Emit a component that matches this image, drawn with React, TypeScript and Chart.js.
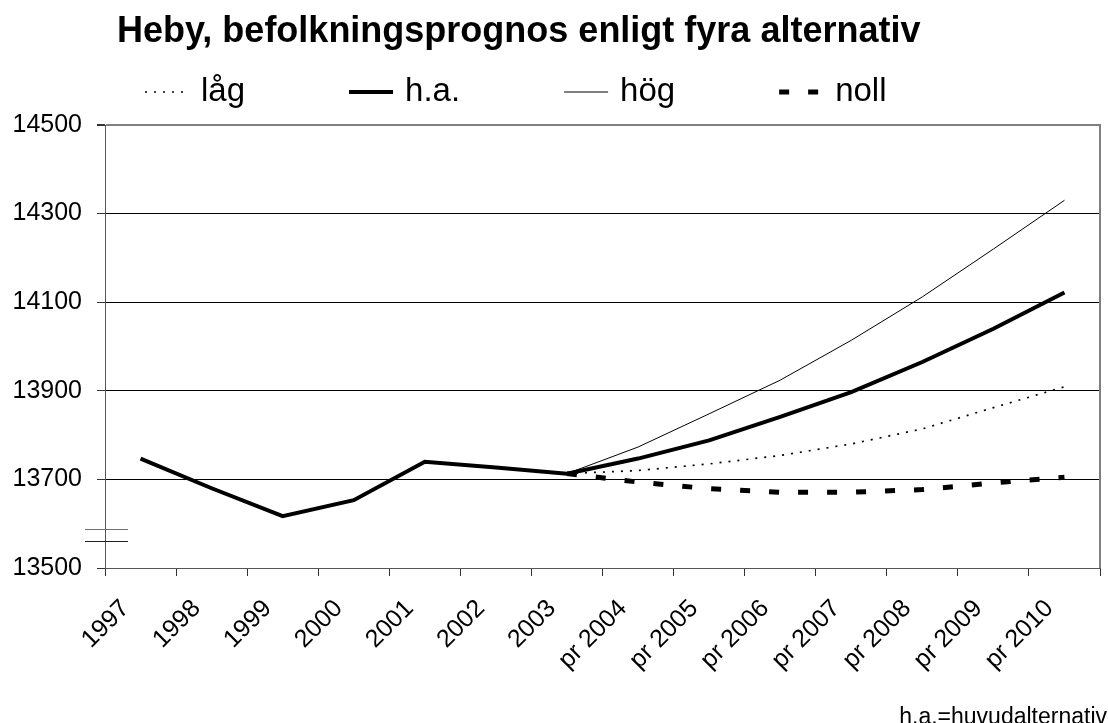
import React, { useEffect, useRef } from "react";
import { Chart, registerables } from "chart.js";

Chart.register(...registerables);

const TITLE = "Heby, befolkningsprognos enligt fyra alternativ";
const FOOTNOTE = "h.a.=huvudalternativ";

const categories = [
  "1997", "1998", "1999", "2000", "2001", "2002", "2003",
  "pr 2004", "pr 2005", "pr 2006", "pr 2007", "pr 2008", "pr 2009", "pr 2010",
];

const lagValues = [null, null, null, null, null, null, 13713, 13720, 13735, 13754, 13780, 13814, 13862, 13909];
const haValues = [13747, 13680, 13617, 13653, 13740, 13727, 13713, 13747, 13788, 13841, 13897, 13965, 14040, 14122];
const hogValues = [null, null, null, null, null, null, 13713, 13773, 13848, 13924, 14014, 14112, 14220, 14330];
const nollValues = [null, null, null, null, null, null, 13713, 13694, 13679, 13671, 13671, 13677, 13692, 13705];

const seriesLabels = ["låg", "h.a.", "hög", "noll"];
const yTicks = [13500, 13700, 13900, 14100, 14300, 14500];
const breakValues = [13587, 13561];

const FONT = "'Liberation Sans', Arial, sans-serif";

const decorPlugin = {
  id: "decor",
  afterDraw(chart: any) {
    const { ctx, chartArea } = chart;
    const yScale = chart.scales.y;
    ctx.save();

    // right border of plot area
    ctx.strokeStyle = "#808080";
    ctx.lineWidth = 2;
    ctx.setLineDash([]);
    ctx.beginPath();
    ctx.moveTo(chartArea.right, chartArea.top - 1);
    ctx.lineTo(chartArea.right, chartArea.bottom);
    ctx.stroke();

    // axis break marks
    ctx.lineWidth = 1;
    breakValues.forEach((v, i) => {
      const py = Math.round(yScale.getPixelForValue(v)) + 0.5;
      ctx.strokeStyle = i === 0 ? "#707070" : "#202020";
      ctx.beginPath();
      ctx.moveTo(chartArea.left - 20, py);
      ctx.lineTo(chartArea.left + 23, py);
      ctx.stroke();
    });

    // title
    ctx.fillStyle = "#000";
    ctx.font = `bold 36px ${FONT}`;
    ctx.textAlign = "left";
    ctx.textBaseline = "alphabetic";
    ctx.fillText(TITLE, 117, 42);

    // legend
    const legendY = 92;
    const sampleW = 44;
    let x = 145;
    ctx.font = `33px ${FONT}`;
    ctx.textBaseline = "middle";
    chart.data.datasets.forEach((ds: any) => {
      ctx.strokeStyle = "#000";
      ctx.lineWidth = ds.borderWidth;
      ctx.setLineDash(ds.borderDash || []);
      ctx.lineCap = "butt";
      ctx.beginPath();
      ctx.moveTo(x, legendY);
      ctx.lineTo(x + sampleW, legendY);
      ctx.stroke();
      ctx.setLineDash([]);
      const tx = x + sampleW + 12;
      ctx.fillText(ds.label, tx, legendY);
      const tw = ctx.measureText(ds.label).width;
      x = tx + tw + 104;
    });

    // footnote
    ctx.font = `23px ${FONT}`;
    ctx.textAlign = "right";
    ctx.textBaseline = "alphabetic";
    ctx.fillText(FOOTNOTE, 1107, 724);

    ctx.restore();
  },
};

export default function App() {
  const canvasRef = useRef<HTMLCanvasElement | null>(null);

  useEffect(() => {
    if (!canvasRef.current) return;
    const chart = new Chart(canvasRef.current, {
      type: "line",
      data: {
        labels: categories,
        datasets: [
          {
            label: seriesLabels[0],
            data: lagValues,
            borderColor: "#000",
            borderWidth: 1.7,
            borderDash: [2, 7],
            order: 3,
          },
          {
            label: seriesLabels[1],
            data: haValues,
            borderColor: "#000",
            borderWidth: 4,
            order: 0,
          },
          {
            label: seriesLabels[2],
            data: hogValues,
            borderColor: "#000",
            borderWidth: 1,
            order: 2,
          },
          {
            label: seriesLabels[3],
            data: nollValues,
            borderColor: "#000",
            borderWidth: 5,
            borderDash: [10, 19],
            order: 1,
          },
        ] as any,
      },
      options: {
        animation: false,
        responsive: false,
        devicePixelRatio: 1,
        layout: { padding: { left: 0, right: 8, top: 125, bottom: 0 } },
        plugins: {
          legend: { display: false },
          title: { display: false },
          tooltip: { enabled: false },
        },
        elements: {
          point: { radius: 0 },
          line: { tension: 0, borderCapStyle: "butt" },
        },
        scales: {
          x: {
            type: "category",
            offset: true,
            grid: {
              offset: true,
              drawOnChartArea: false,
              drawTicks: true,
              tickLength: 8,
              color: "#000",
              tickColor: "#333",
            },
            border: { color: "#555", width: 1 },
            ticks: {
              autoSkip: false,
              minRotation: 45,
              maxRotation: 45,
              color: "#000",
              padding: 18,
              labelOffset: -15,
              font: { family: FONT, size: 25 },
            },
            afterFit(scale: any) {
              scale.height = 155;
            },
          },
          y: {
            min: 13500,
            max: 14500,
            afterBuildTicks(scale: any) {
              scale.ticks = yTicks.map((v) => ({ value: v }));
            },
            grid: {
              color: (c: any) => (c.tick && c.tick.value === 14500 ? "#808080" : "#000"),
              lineWidth: (c: any) => (c.tick && c.tick.value === 14500 ? 2 : 1),
              tickLength: 8,
              tickColor: "#333",
            },
            border: { color: "#555", width: 1 },
            ticks: {
              color: "#000",
              padding: 15,
              font: { family: FONT, size: 25 },
              callback: (v: any) => String(v),
            },
            afterFit(scale: any) {
              scale.width = 105;
            },
          },
        },
      },
      plugins: [decorPlugin],
    });
    return () => chart.destroy();
  }, []);

  return (
    <div style={{ position: "fixed", left: 0, top: 0, width: 1108, height: 723, background: "#fff" }}>
      <canvas ref={canvasRef} width={1108} height={723} style={{ display: "block" }} />
    </div>
  );
}
